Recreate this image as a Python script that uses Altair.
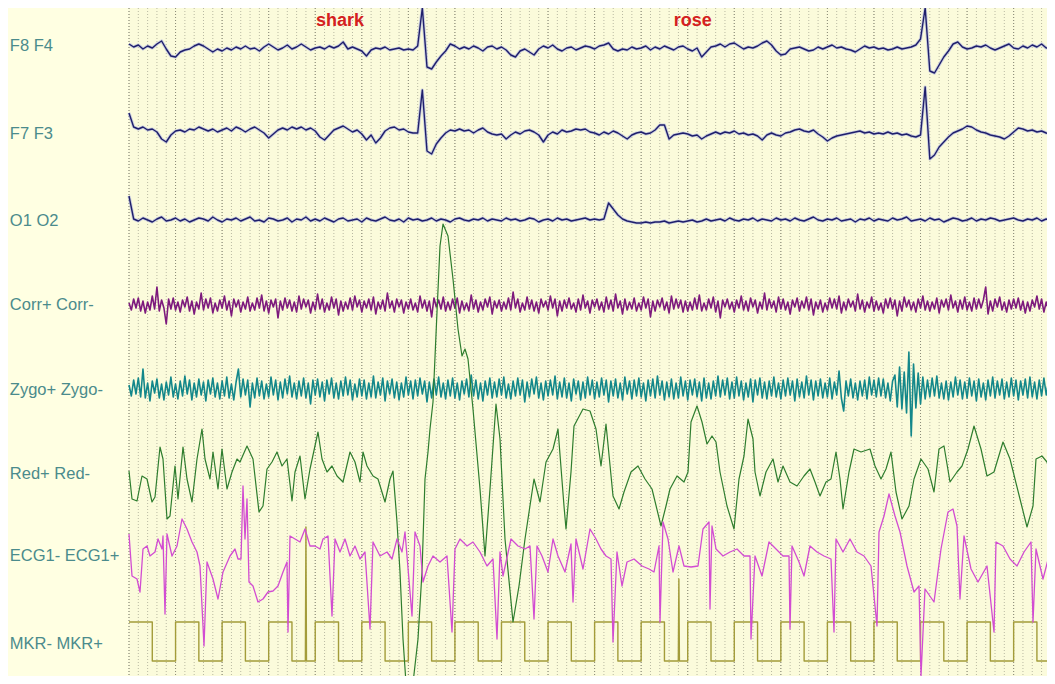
import altair as alt
import numpy as np
import pandas as pd

# ---------------- time base ----------------
TICKS_PER_SEC = 46.56          # display time base (ticks per second)
EEG_STEP = 0.1                 # seconds between stored samples (F8/F7/O1)
NOISE_STEP = 0.05              # seconds between stored samples (Corr/Zygo)
VIEW_START_S = -121 / TICKS_PER_SEC
VIEW_END_S = 918 / TICKS_PER_SEC

# ---------------- channel layout ----------------
channel_names = ["F8 F4", "F7 F3", "O1 O2", "Corr+ Corr-", "Zygo+ Zygo-",
                 "Red+ Red-", "ECG1- ECG1+", "MKR- MKR+"]
channel_offsets = [634, 550, 463, 378, 294, 214, 127, 22]
label_levels = [637, 549, 462, 378, 293, 209, 127, 39]
label_time = [-2.56] * 8

event_names = ["shark", "rose"]
event_times = [4.53, 12.11]
event_levels = [662, 662]

# ---------------- signals ----------------
f8_f4 = [5,2,4,0,3,1,5,8,0,-7, -8,-3,-1,0,3,5,3,0,-3,0,
         -2,1,-1,2,0,3,0,1,-2,2, 5,2,-1,1,4,0,2,5,2,-1,
         1,2,0,3,1,3,7,0,2,0, -2,-7,-1,1,0,2,-1,0,1,-1,
         0,-1,3,41,-18,-20,-13,-7,-2,5, 3,0,2,0,3,1,-2,2,3,0,
         2,-1,-6,-8,-2,0,-3,-6,0,3, 1,4,0,-2,1,2,-1,1,3,2,
         0,3,4,6,0,-2,0,-1,2,0, 1,3,-1,2,0,3,1,-1,2,3,
         0,-2,1,-8,-3,2,3,5,2,5, 6,3,0,2,1,3,6,8,4,-2,
         -6,-5,0,1,2,0,-2,-1,2,0, 2,4,1,2,0,-1,-3,0,3,1,
         2,0,1,-1,0,2,0,1,2,4, 10,41,-22,-24,-16,-8,-2,5,7,2,
         0,1,3,2,4,1,-1,1,3,5, 1,0,3,1,4,2,5,1,3,0]

f7_f3 = [20,6,4,6,3,4,1,-6,-9,-2, 2,3,1,4,3,6,4,2,4,1,
         3,5,2,6,4,1,4,6,3,0, -5,-1,3,5,3,6,4,6,3,5,
         2,-4,-7,-2,3,5,7,4,1,3, -1,-7,-2,-10,-5,2,5,6,3,4,
         1,0,0,43,-18,-21,-11,-5,0,3, 2,4,2,3,0,3,5,1,-1,-2,
         -1,-6,-2,1,-1,2,3,1,-2,-9, -2,1,-1,3,1,2,4,3,4,1,
         0,-2,1,-1,2,0,-3,-6,-2,0, 1,-1,0,3,8,8,-6,-2,-1,0,
         -1,-3,-2,-6,-3,-1,1,-1,1,0, 2,-1,0,-2,-1,-3,-7,-2,0,-2,
         -3,0,1,3,4,2,1,3,-1,-4, -8,-5,-3,-2,-1,0,1,2,0,1,
         -1,0,-1,1,-1,0,-2,-1,-3,-4, -2,46,-26,-22,-14,-9,-4,0,2,4,
         7,6,3,1,0,-2,-3,-4,-6,-3, 1,5,4,2,3,1,2,0,-1,0]

o1_o2 = [24,1,-1,2,0,-2,1,3,-1,0, 2,-1,1,-2,0,2,1,-1,3,0,
         -2,1,0,2,-1,1,3,-1,0,-2, 2,1,-1,0,2,-2,1,0,3,-1,
         1,-1,2,0,-2,1,2,-1,0,1, -2,2,0,-1,1,3,0,-1,1,-2,
         2,0,1,-1,0,2,-1,1,0,-2, 1,2,0,-1,1,0,2,-1,1,0,
         -1,2,0,1,-1,0,2,1,-2,0, 1,-1,2,0,1,-1,0,1,2,0,
         1,0,1,17,11,5,1,-1,-2,-3, -3,-2,-3,-2,-2,-1,-3,-2,-1,-2,
         -1,0,-2,-1,1,-1,0,1,-1,2, 0,-1,1,0,2,-1,1,0,-1,2,
         0,1,-1,2,0,-1,1,3,0,-1, 1,0,2,-1,0,1,-2,1,0,2,
         -1,1,0,-1,2,0,1,3,-1,0, 1,-1,2,0,1,-2,0,2,1,-1,
         0,2,-1,1,0,2,1,-1,0,1, 2,0,-1,1,0,2,-1,1,0,1]

corr = [2,-5,6,-3,7,-6,4,-8,3,-5,9,-4,18,-6,5,-3,-19,6,-4,7,
        -5,3,-7,5,-2,8,-6,4,-9,3,-4,12,-5,6,-3,7,-8,2,-6,5,
        -3,9,-5,4,-11,6,-2,5,-7,3,-4,8,-6,2,-5,7,-3,10,-6,4,
        -8,5,-2,6,-13,4,-5,7,-3,5,-6,3,-7,9,-4,6,-2,5,-8,3,
        -5,11,-4,6,-7,2,-5,8,-3,6,-10,4,-6,3,-4,7,-5,9,-2,5,
        -7,4,-3,6,-5,8,-9,3,-4,5,-6,12,-3,4,-7,6,-2,5,-8,3,
        -4,6,-5,2,-7,9,-3,5,-6,4,-12,7,-2,5,-4,8,-6,3,-5,6,
        -3,7,-8,4,-5,2,-6,10,-4,5,-7,3,-5,6,-2,8,-9,4,-3,5,
        -6,3,-4,7,-5,13,-3,6,-7,2,-5,8,-4,5,-6,3,-8,6,-2,4,
        -5,9,-3,6,-11,4,-6,5,-3,7,-4,2,-7,6,-5,10,-3,4,-8,5,
        -2,6,-5,3,-7,8,-4,5,-6,11,-3,4,-9,6,-5,3,-4,7,-6,2,
        -5,8,-3,6,-12,4,-6,5,-2,7,-5,3,-8,9,-4,6,-3,5,-7,4,
        -6,3,-5,7,-4,10,-6,2,-5,6,-3,8,-7,4,-13,5,-2,6,-4,3,
        -7,5,-3,9,-5,4,-6,7,-2,5,-8,3,-4,12,-5,6,-3,4,-7,8,
        -4,6,-5,3,-9,5,-2,7,-6,4,-3,8,-5,6,-10,3,-4,5,-7,2,
        -5,7,-3,6,-4,9,-8,3,-5,6,-2,4,-6,11,-4,5,-7,3,-3,8,
        -6,4,-5,2,-8,6,-3,7,-4,5,-11,4,-6,8,-2,5,-5,3,-7,6,
        -3,9,-5,4,-6,3,-4,7,-8,5,-2,6,-5,10,-3,4,-7,5,-4,8,
        -5,3,-6,7,-4,6,-3,5,18,-9,4,-6,6,-2,8,-5,3,-7,5,-4,
        6,-3,7,-5,4,-8,3,-6,5,-2,9,-4,6,-7,3,-5,8,-3,4,-6]

zygo = [4,-7,9,-5,11,-8,20,-9,6,-12,8,-4,10,-9,5,-11,7,-6,12,-8,
        5,-10,8,-7,13,-5,9,-11,6,-8,10,-6,7,-12,9,-5,11,-8,6,-10,
        8,-7,12,-9,5,-11,7,20,-8,10,-6,9,-18,6,-9,11,-7,8,-10,5,
        -8,12,-6,9,-11,7,-9,10,-5,13,-8,6,-10,8,-7,11,-9,6,-15,9,
        -6,10,-8,7,-12,9,-5,11,-9,6,-10,8,-7,12,-6,9,-11,5,-8,10,
        -7,9,-10,6,-8,13,-9,7,-6,11,-12,8,-5,10,-9,7,-11,6,-8,12,
        -6,8,-10,9,-7,11,-5,8,-13,7,-9,10,-6,12,-8,6,-10,9,-7,11,
        -9,6,-11,8,-5,10,-8,14,-7,9,-10,6,-12,8,-6,11,-9,7,-8,10,
        -6,12,-9,5,-10,8,-7,11,-6,9,-13,7,-8,10,-5,12,-9,6,-11,8,
        -7,9,-6,13,-10,7,-8,11,-9,6,-12,10,-5,8,-11,7,-9,12,-6,9,
        -10,7,-8,11,-6,9,-13,8,-7,10,-9,6,-11,12,-5,8,-10,9,-7,11,
        -8,6,-12,9,-7,10,-9,13,-6,8,-11,7,-8,10,-10,6,-9,12,-7,8,
        -11,9,-6,10,-8,7,-12,11,-9,6,-10,8,-7,13,-8,9,-6,11,-10,7,
        -9,12,-7,8,-11,6,-8,10,-13,9,-6,11,-9,7,-10,8,-7,12,-8,6,
        -10,9,-7,11,-6,8,-12,10,-8,7,-9,13,-6,9,-11,8,-7,10,-9,6,
        -8,11,-10,7,-6,18,-9,-22,8,-7,10,-9,6,-11,8,-7,9,-10,12,-6,
        9,-8,11,-7,10,-9,6,-12,8,14,-18,22,-20,17,-24,37,-47,25,-19,16,
        -15,12,-10,9,-8,11,-7,13,-9,6,-10,8,-11,7,-8,12,-6,9,-10,7,
        -9,11,-7,8,-12,10,-8,6,-11,9,-7,12,-9,8,-6,10,-10,7,-8,11,
        -7,9,-11,8,-6,10,-9,12,-8,7,-10,9,-7,11,-6,8,-9,10,-8,6]

red_ticks = [0,3,8,13,18,23,26,31,34,38,41,46,49,54,58,63,68,73,76,81,
             84,89,93,98,103,108,111,118,124,130,134,138,143,148,153,158,163,166,171,176,
             181,189,193,198,203,208,214,221,226,231,234,238,244,249,256,261,264,268,271,274,
             277,280,284,289,293,296,299,301,304,308,311,314,319,324,329,333,336,339,344,351,
             356,361,367,371,376,384,390,396,405,411,417,424,429,435,437,442,445,454,461,467,
             472,477,484,490,495,502,509,516,523,532,537,541,548,555,559,562,568,573,578,583,
             587,591,598,605,610,615,619,624,626,631,637,644,649,654,661,668,675,681,686,691,
             697,702,707,711,714,720,725,732,741,746,752,757,762,767,773,780,785,792,799,805,
             810,815,821,828,833,839,845,852,858,865,874,881,891,898,904,907,913,918,923,927]
red_vals = [-2,-30,-32,-7,-10,-33,-28,22,10,-50,-47,3,-30,22,-10,-33,10,40,10,-10,
            17,-20,20,-20,-3,10,7,23,10,-43,-37,0,7,17,3,10,-32,-3,13,-30,
            0,37,10,-3,3,-7,-13,17,7,-13,17,3,-7,-10,-33,-10,-2,-53,-103,-170,
            -214,-222,-214,-170,-103,-10,17,40,67,157,223,245,233,190,140,113,120,110,60,-20,
            -87,-20,65,30,-70,-153,-117,-70,-10,-33,7,20,40,-37,-60,-3,43,60,58,40,
            3,45,-27,-40,-23,-3,3,-10,-20,-57,-37,-20,-7,-13,-3,47,63,47,25,33,
            27,-3,-37,-60,-10,13,50,30,-3,-27,-3,10,-13,3,-13,-17,-7,0,-13,-27,
            -13,-10,17,-10,-40,-3,20,17,20,3,-10,0,17,-23,-50,-37,-10,10,0,-23,
            20,23,-13,-3,3,20,43,20,-7,-3,27,10,-30,-58,-37,10,13,7,-10,-5]

ecg_ticks = [0,3,8,11,14,18,21,26,29,33,34,36,38,43,48,53,58,63,68,71,
             75,78,84,89,94,101,106,109,112,114,116,118,120,124,129,134,139,144,149,154,
             158,159,161,166,171,176,181,186,191,194,199,203,206,211,216,221,226,231,236,241,
             244,251,258,263,268,273,276,283,286,291,294,299,304,311,318,323,326,331,338,344,
             351,358,364,368,371,374,382,389,396,401,405,408,413,419,424,429,436,442,444,447,
             454,461,467,472,477,482,484,488,493,498,505,513,520,525,530,531,534,539,544,550,
             555,562,569,574,580,581,583,587,594,601,608,615,621,622,626,633,640,647,654,660,
             661,663,670,675,681,688,695,702,705,707,714,721,728,735,742,748,750,755,760,766,
             771,778,785,790,792,796,805,812,819,824,828,831,835,842,849,858,865,867,874,881,
             888,895,902,904,907,914,920,925]
ecg_vals = [22,-20,-23,-36,7,10,0,4,17,7,20,-58,22,0,10,37,27,14,4,-10,
            -90,-6,-23,-43,-16,0,7,-3,-3,70,17,57,-26,-30,-46,-43,-36,-35,-30,-16,
            -6,-76,20,17,14,27,10,10,7,17,20,-60,17,4,17,0,10,-3,4,-73,
            14,0,4,-3,17,4,24,-60,24,10,-26,-10,0,-6,0,-76,7,17,10,14,
            4,-10,-3,-83,4,-20,17,10,7,10,-63,10,0,-16,17,0,-16,12,-46,17,
            -13,27,17,7,0,-3,-86,4,-30,-6,-3,-10,-13,-16,10,-66,34,17,-16,10,
            -10,-11,-10,27,34,-53,30,7,0,4,7,0,0,-83,0,-20,14,7,0,0,
            -73,10,-6,-20,10,4,0,-3,-76,17,4,17,4,0,-10,-70,24,40,62,40,
            24,-10,-36,-30,-120,-33,-46,7,44,47,30,-43,20,-13,-26,-10,-76,14,10,-3,
            -10,4,14,-66,7,-23,0,-10]

# marker channel: level of each half-second segment, plus artefact spikes
MKR_HALF_PERIOD = 0.5
MKR_HIGH = 39
mkr_levels = [1,0,1,0,1,0,1,0,1,0, 1,0,1,0,1,0,1,0,1,0,
              1,0,1,0,1,0,1,0,1,0, 1,0,1,0,1,0,1,0,1,0]
mkr_spike_times = [3.80, 11.81, 19.82]
mkr_spike_heights = [134, 82, 82]

# ---------------- colours ----------------
PANEL_BG = "#FFFFE2"
PLOT_BG = "#FBFBDB"
LABEL_COLOR = "#4b8b8c"
EVENT_COLOR = "#d42020"
EEG_COLOR = "#1f1f6b"
EEG_HALO = "#aab0e0"
channel_colors = ["#1f1f6b", "#1f1f6b", "#1f1f6b", "#7d1a7d", "#13878a",
                  "#2e7d2e", "#d24cd2", "#a39c3a"]

W, H = 1039, 668
xs = alt.Scale(domain=[VIEW_START_S, VIEW_END_S], nice=False, zero=False)
ys = alt.Scale(domain=[7, 675], nice=False, zero=False)
X = lambda f: alt.X(f, type="quantitative", scale=xs, axis=None)
Y = lambda f: alt.Y(f, type="quantitative", scale=ys, axis=None)


def uniform_frame(vals, step, offset):
    n = len(vals)
    return pd.DataFrame({"t": np.arange(n) * step,
                         "v": np.asarray(vals, dtype=float) + offset,
                         "i": np.arange(n)})


def tick_frame(ticks, vals, offset):
    return pd.DataFrame({"t": np.asarray(ticks, dtype=float) / TICKS_PER_SEC,
                         "v": np.asarray(vals, dtype=float) + offset,
                         "i": np.arange(len(ticks))})


def line(df, color, width, opacity=1.0):
    return alt.Chart(df).mark_line(color=color, strokeWidth=width, opacity=opacity,
                                   clip=True, strokeJoin="round").encode(
        x=X("t"), y=Y("v"), order=alt.Order("i:Q"))


# marker trace
pts = []
for k, lvl in enumerate(mkr_levels):
    pts.append((k * MKR_HALF_PERIOD, lvl * MKR_HIGH))
    pts.append(((k + 1) * MKR_HALF_PERIOD, lvl * MKR_HIGH))
for ts, h in zip(mkr_spike_times, mkr_spike_heights):
    pts += [(ts - 0.012, 0), (ts, h), (ts + 0.012, 0)]
pts = sorted(pts, key=lambda p: p[0])
mkr_df = pd.DataFrame({"t": [p[0] for p in pts],
                       "v": [p[1] + channel_offsets[7] for p in pts],
                       "i": range(len(pts))})

f8_df = uniform_frame(f8_f4, EEG_STEP, channel_offsets[0])
f7_df = uniform_frame(f7_f3, EEG_STEP, channel_offsets[1])
o1_df = uniform_frame(o1_o2, EEG_STEP, channel_offsets[2])
corr_df = uniform_frame(corr, NOISE_STEP, channel_offsets[3])
zygo_df = uniform_frame(zygo, NOISE_STEP, channel_offsets[4])
red_df = tick_frame(red_ticks, red_vals, channel_offsets[5])
ecg_df = tick_frame(ecg_ticks, ecg_vals, channel_offsets[6])

rec_end = max(f8_df["t"].max(), red_df["t"].max())
panel = alt.Chart(pd.DataFrame({"t0": [0.0], "t1": [rec_end + 1]})).mark_rect(
    color=PLOT_BG, clip=True).encode(x=X("t0"), x2="t1")

minor_df = pd.DataFrame({"t": np.arange(0, 20.01, 0.2)})
major_df = pd.DataFrame({"t": np.arange(0, 20.01, 1.0)})
minor = alt.Chart(minor_df).mark_rule(color="#b9b9a2", strokeWidth=1,
                                      strokeDash=[1, 2], clip=True).encode(x=X("t"))
major = alt.Chart(major_df).mark_rule(color="#8c8c78", strokeWidth=1,
                                      strokeDash=[1, 2], clip=True).encode(x=X("t"))

labels = alt.Chart(pd.DataFrame({"name": channel_names, "t": label_time,
                                 "v": label_levels})).mark_text(
    align="left", baseline="middle", font="Liberation Sans", fontSize=16.5,
    color=LABEL_COLOR).encode(x=X("t"), y=Y("v"), text="name:N")

events = alt.Chart(pd.DataFrame({"name": event_names, "t": event_times,
                                 "v": event_levels})).mark_text(
    align="center", baseline="middle", font="Liberation Sans", fontSize=18,
    fontWeight="bold", color=EVENT_COLOR).encode(x=X("t"), y=Y("v"), text="name:N")

layers = [panel, minor, major, labels, events]
for df in (f8_df, f7_df, o1_df):
    layers.append(line(df, EEG_HALO, 3.2, 0.6))
    layers.append(line(df, EEG_COLOR, 1.4))
layers += [
    line(corr_df, channel_colors[3], 1.6),
    line(zygo_df, channel_colors[4], 1.6),
    line(mkr_df, channel_colors[7], 1.4),
    line(red_df, channel_colors[5], 1.2),
    line(ecg_df, channel_colors[6], 1.3),
]

chart = alt.layer(*layers).properties(
    width=W, height=H, padding=0,
    autosize=alt.AutoSizeParams(type="fit", contains="padding"),
    background=PANEL_BG,
).configure_view(strokeWidth=0, fill=PANEL_BG)

chart.save("out.html", embed_options={"renderer": "svg", "actions": False})
